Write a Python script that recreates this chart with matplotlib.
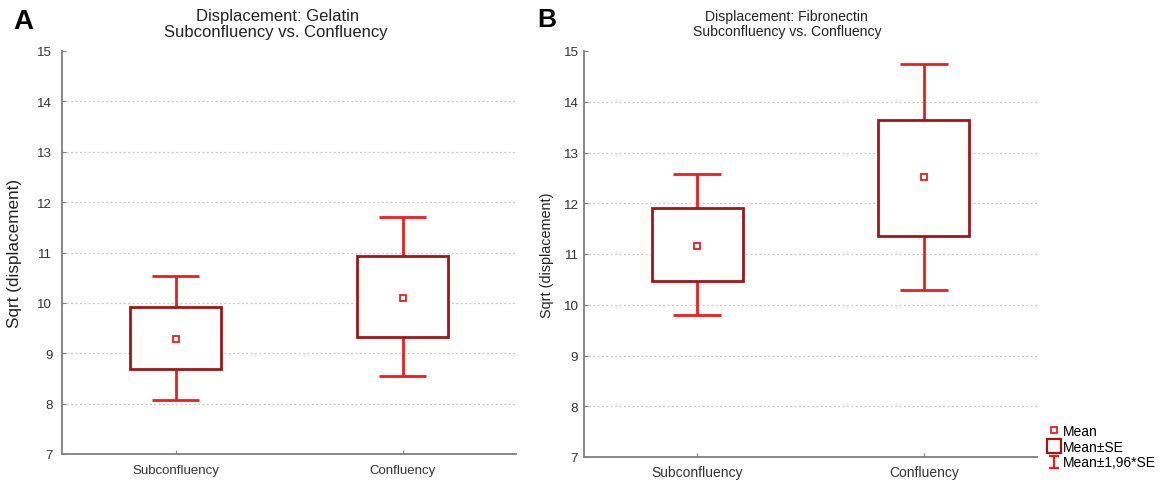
import matplotlib
matplotlib.use("Agg")
import matplotlib.pyplot as plt
from matplotlib.patches import Rectangle
from matplotlib.lines import Line2D
from matplotlib.path import Path

plt.rcParams['font.family'] = ['Liberation Sans', 'DejaVu Sans']

categories = ["Subconfluency", "Confluency"]

# Gelatin: mean, mean±SE, mean±1.96*SE
gel_mean = [9.28, 10.09]
gel_se_low = [8.68, 9.32]
gel_se_high = [9.91, 10.93]
gel_ci_low = [8.07, 8.54]
gel_ci_high = [10.54, 11.71]

# Fibronectin
fib_mean = [11.16, 12.51]
fib_se_low = [10.46, 11.35]
fib_se_high = [11.91, 13.64]
fib_ci_low = [9.80, 10.29]
fib_ci_high = [12.57, 14.74]

y_ticks = [7, 8, 9, 10, 11, 12, 13, 14, 15]

BOX_COLOR = "#a31515"
WHISK_COLOR = "#f01c1c"
AXIS_COLOR = "#7f7f7f"

W, H = 1165, 481
fig = plt.figure(figsize=(W / 100, H / 100), dpi=100)


def draw_panel(ax, mean, se_lo, se_hi, ci_lo, ci_hi, ytick_fs, xtick_fs, ypad, xpad,
               ylabel_fs, ylabel_x):
    box_w = 0.40
    cap_w = 0.21
    for i, cat in enumerate(categories):
        x = i + 1
        # whiskers run from the box edges out to the caps
        ax.plot([x, x], [se_hi[i], ci_hi[i]], color=WHISK_COLOR, lw=2.0, solid_capstyle='butt', zorder=3)
        ax.plot([x, x], [ci_lo[i], se_lo[i]], color=WHISK_COLOR, lw=2.0, solid_capstyle='butt', zorder=3)
        ax.plot([x - cap_w / 2, x + cap_w / 2], [ci_hi[i], ci_hi[i]], color=WHISK_COLOR, lw=2.0,
                solid_capstyle='butt', zorder=3)
        ax.plot([x - cap_w / 2, x + cap_w / 2], [ci_lo[i], ci_lo[i]], color=WHISK_COLOR, lw=2.0,
                solid_capstyle='butt', zorder=3)
        ax.add_patch(Rectangle((x - box_w / 2, se_lo[i]), box_w, se_hi[i] - se_lo[i],
                               facecolor='white', edgecolor=BOX_COLOR, lw=2.0, zorder=4))
        ax.plot([x], [mean[i]], marker='s', ms=5, mfc='white', mec=WHISK_COLOR, mew=1.3, zorder=5)

    ax.set_xlim(0.5, 2.5)
    ax.set_ylim(7, 15)
    ax.set_yticks(y_ticks)
    ax.set_xticks([1, 2])
    ax.set_xticklabels(categories, fontsize=xtick_fs)
    ax.tick_params(axis='y', labelsize=ytick_fs, direction='in', length=3, color=AXIS_COLOR,
                   labelcolor='#333333', pad=ypad)
    ax.tick_params(axis='x', direction='in', length=3, color=AXIS_COLOR, labelcolor='#333333',
                   pad=xpad)
    for s in ('top', 'right'):
        ax.spines[s].set_visible(False)
    for s in ('left', 'bottom'):
        ax.spines[s].set_color(AXIS_COLOR)
        ax.spines[s].set_linewidth(1.3)
    for yv in y_ticks[1:-1]:
        ax.axhline(yv, color='#c8c8c8', lw=0.9, ls=(0, (1.5, 2)), zorder=1)
    ax.set_ylabel("Sqrt (displacement)", fontsize=ylabel_fs, color='#222222', va='center')
    ax.yaxis.set_label_coords(ylabel_x, 0.5)


ax_a = fig.add_axes([62 / W, 1 - 455 / H, 454 / W, 403 / H])
draw_panel(ax_a, gel_mean, gel_se_low, gel_se_high, gel_ci_low, gel_ci_high,
           ytick_fs=9.5, xtick_fs=9.5, ypad=7, xpad=7, ylabel_fs=12.3, ylabel_x=(15 - 62) / 454)

ax_b = fig.add_axes([584 / W, 1 - 458 / H, 453 / W, 406 / H])
draw_panel(ax_b, fib_mean, fib_se_low, fib_se_high, fib_ci_low, fib_ci_high,
           ytick_fs=9.7, xtick_fs=10, ypad=4.5, xpad=6, ylabel_fs=10.4, ylabel_x=(547 - 584) / 453)

# two-line titles
fig.text(278 / W, 1 - 16 / H, "Displacement: Gelatin", ha='center', va='center',
         fontsize=12, color='#222222')
fig.text(276 / W, 1 - 32 / H, "Subconfluency vs. Confluency", ha='center', va='center',
         fontsize=12, color='#222222')
fig.text(786 / W, 1 - 17 / H, "Displacement: Fibronectin", ha='center', va='center',
         fontsize=10.1, color='#222222')
fig.text(787 / W, 1 - 32 / H, "Subconfluency vs. Confluency", ha='center', va='center',
         fontsize=10.1, color='#222222')

fig.text(13 / W, 1 - 22 / H, "A", fontsize=20, fontweight='bold', va='center', ha='left')
fig.text(537 / W, 1 - 20 / H, "B", fontsize=19, fontweight='bold', va='center', ha='left')

# legend glyph for the 1.96*SE whisker
i_marker = Path([(-0.85, 1), (0.85, 1), (0, 1), (0, -1), (-0.85, -1), (0.85, -1)],
                [Path.MOVETO, Path.LINETO, Path.MOVETO, Path.LINETO, Path.MOVETO, Path.LINETO])
handles = [
    Line2D([], [], ls='none', marker='s', ms=4.5, mfc='white', mec=WHISK_COLOR, mew=1.3),
    Line2D([], [], ls='none', marker='s', ms=9.5, mfc='white', mec=BOX_COLOR, mew=1.6),
    Line2D([], [], ls='none', marker=i_marker, ms=8.5, mfc='none', mec=WHISK_COLOR, mew=1.6),
]
labels = ["Mean", "Mean\u00b1SE", "Mean\u00b11,96*SE"]
fig.legend(handles, labels, loc='lower right', bbox_to_anchor=(1161 / W, 5 / H),
           frameon=False, fontsize=10, handlelength=0.8, handletextpad=0.2,
           labelspacing=0.12, borderpad=0.2, borderaxespad=0.2)

fig.savefig("out.png", dpi=100)
